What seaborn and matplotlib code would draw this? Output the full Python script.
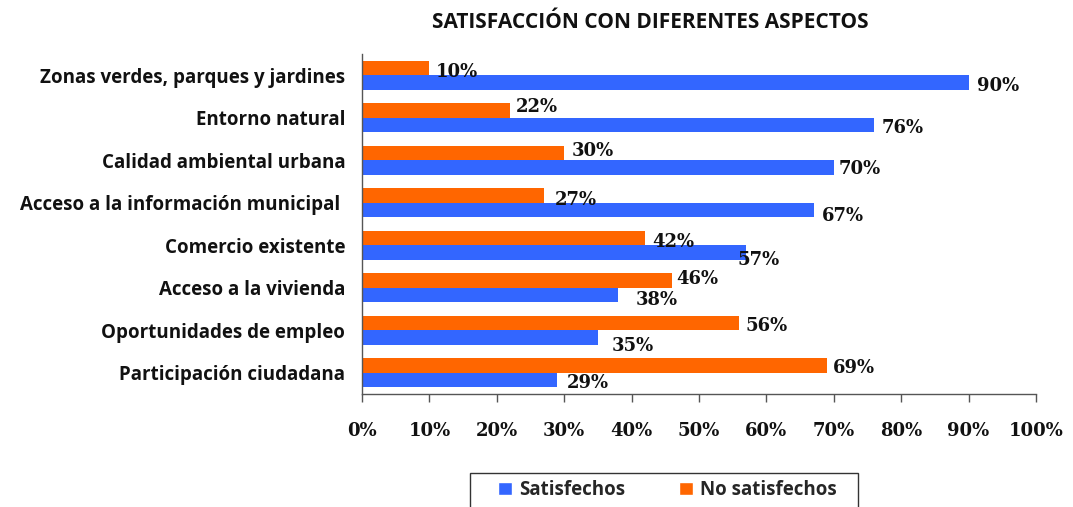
import matplotlib
matplotlib.use("Agg")
import matplotlib.pyplot as plt
import seaborn as sns
import pandas as pd
import numpy as np
from matplotlib.patches import Patch, Rectangle

categories = [
    "Zonas verdes, parques y jardines",
    "Entorno natural",
    "Calidad ambiental urbana",
    "Acceso a la información municipal ",
    "Comercio existente",
    "Acceso a la vivienda",
    "Oportunidades de empleo",
    "Participación ciudadana",
]
satisfechos = [90, 76, 70, 67, 57, 38, 35, 29]
no_satisfechos = [10, 22, 30, 27, 42, 46, 56, 69]
xtick_values = [0, 10, 20, 30, 40, 50, 60, 70, 80, 90, 100]
xtick_labels = [f"{v}%" for v in xtick_values]

# label nudges in pixels (style only): dx from bar end, dy downward
no_sat_dx = [6, 6, 7, 11, 7, 4, 6, 6]
no_sat_dy = [1.5, -6, -5, 2, 1, -4.5, 0, 0]
sat_dx = [8, 7, 5, 8, -9, 18, 14, 9]
sat_dy = [0, 0, -1.5, 2.5, 4, 1.5, 5, 0]
BASE_DY = 3

BLUE = "#3366FF"
ORANGE = "#FF6600"

df = pd.DataFrame({
    "Aspecto": categories * 2,
    "Valor": no_satisfechos + satisfechos,
    "Grupo": ["No satisfechos"] * len(categories) + ["Satisfechos"] * len(categories),
})

sns.set_style("white")
plt.rcParams["font.family"] = ["Open Sans", "DejaVu Sans"]

W, H = 1073, 507
fig = plt.figure(figsize=(W / 100, H / 100), dpi=100)
ax = fig.add_axes([362 / W, 1 - 394 / H, (1036 - 362) / W, (394 - 54) / H])

sns.barplot(
    data=df, y="Aspecto", x="Valor", hue="Grupo", order=categories,
    hue_order=["No satisfechos", "Satisfechos"],
    palette={"No satisfechos": ORANGE, "Satisfechos": BLUE},
    orient="h", width=0.69, saturation=1, ax=ax, legend=False, errorbar=None,
    linewidth=0,
)

# value labels
px2pt = 72 / 100
nudges = [(no_sat_dx, no_sat_dy), (sat_dx, sat_dy)]
for container, (dxs, dys) in zip(ax.containers, nudges):
    for bar, dx, dy in zip(container, dxs, dys):
        w = bar.get_width()
        yc = bar.get_y() + bar.get_height() / 2
        ax.annotate(f"{int(round(w))}%", (w, yc), xytext=(dx * px2pt, -(dy + BASE_DY) * px2pt),
                    textcoords="offset points", ha="left", va="center",
                    fontsize=13, fontweight="bold", family="DejaVu Serif",
                    color="#111111")

ax.set_xlim(0, 100)
ax.set_ylim(len(categories) - 0.5, -0.5)
ax.set_xticks(xtick_values)
ax.set_xticklabels(xtick_labels, fontsize=13, fontweight="bold", family="DejaVu Serif", color="#111111")
ax.set_yticks(range(len(categories)))
ax.set_yticklabels(categories, fontsize=13.5, fontweight="bold", color="#111111")
ax.set_yticks(np.arange(-0.5, len(categories), 1), minor=True)
ax.tick_params(axis="y", which="major", length=0, pad=12)
ax.tick_params(axis="y", which="minor", length=6, width=1, color="#555555", direction="out")
ax.tick_params(axis="x", which="major", length=6, width=1, color="#555555", direction="out", pad=14.5, bottom=True)
ax.set_xlabel("")
ax.set_ylabel("")
for s in ["top", "right"]:
    ax.spines[s].set_visible(False)
for s in ["left", "bottom"]:
    ax.spines[s].set_color("#555555")
    ax.spines[s].set_linewidth(1)
ax.grid(False)

fig.text(650 / W, 1 - 22 / H, "SATISFACCIÓN CON DIFERENTES ASPECTOS",
         ha="center", va="center", fontsize=15, fontweight="bold",
         family=["Open Sans", "DejaVu Sans"], color="#111111")

# legend frame (extends past the bottom edge as in the reference)
fig.patches.append(Rectangle((470 / W, -10 / H), (858 - 470) / W, (507 - 473 + 10) / H,
                             transform=fig.transFigure, facecolor="white",
                             edgecolor="#333333", linewidth=1, zorder=1))
handles = [Patch(facecolor=BLUE, label="Satisfechos"), Patch(facecolor=ORANGE, label="No satisfechos")]
leg = fig.legend(handles=handles, loc="center", bbox_to_anchor=(667.5 / W, 1 - 490 / H),
                 ncol=2, frameon=False,
                 prop={"size": 13.5, "weight": "bold"}, handlelength=0.75, handleheight=0.75,
                 handletextpad=0.35, columnspacing=2.9, borderpad=0.0, borderaxespad=0)
leg.set_zorder(2)

fig.savefig("out.png", dpi=100)
